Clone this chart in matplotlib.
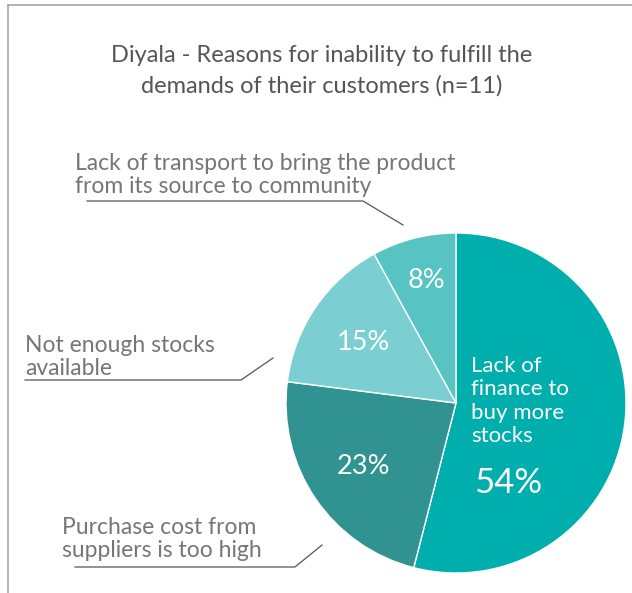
import numpy as np
import matplotlib.pyplot as plt
from matplotlib.lines import Line2D

# Slice data, clockwise from twelve o'clock
reasons = ["Lack of\nfinance to\nbuy more\nstocks",
           "Purchase cost from\nsuppliers is too high",
           "Not enough stocks\navailable",
           "Lack of transport to bring the product\nfrom its source to community"]
shares = [54, 23, 15, 8]
colours = ["#00aeae", "#309391", "#7bcfd2", "#57c3c3"]

title = "Diyala - Reasons for inability to fulfill the\ndemands of their customers (n=11)"

W, H = 632, 593
grey = "#767676"
plt.rcParams['font.family'] = ['Lato', 'DejaVu Sans']

fig = plt.figure(figsize=(W / 100, H / 100), dpi=100)
ax = fig.add_axes([0, 0, 1, 1])

# pixel-style coordinates, y measured from the top
def px(x, y):
    return x, H - y

cx, cy = px(456, 403)
R = 170
wedges, _ = ax.pie(shares, colors=colours, startangle=90, counterclock=False,
                   center=(cx, cy), radius=R, frame=True,
                   wedgeprops=dict(edgecolor="white", linewidth=1))
ax.set_xlim(0, W)
ax.set_ylim(0, H)
ax.set_aspect("auto")
ax.axis("off")

# frame: top and left rules
ax.add_line(Line2D([8, W], [H - 5, H - 5], color="#a6a6a6", lw=1.2))
ax.add_line(Line2D([8, 8], [H - 5, 0], color="#a6a6a6", lw=1.2))

ax.text(*px(322, 71), title, ha="center", va="center", fontsize=17,
        color="#555555", linespacing=1.52)

# percentage labels inside slices
pct_pos = [(508, 483), (363, 467), (363, 342), (426, 280)]
pct_size = [25, 19.5, 19.5, 19.5]
for v, (x, y), s in zip(shares, pct_pos, pct_size):
    ax.text(*px(x, y), f"{v}%", ha="center", va="center", fontsize=s,
            color="white")

ax.text(*px(471, 401), reasons[0], ha="left", va="center", fontsize=16,
        color="white", linespacing=1.22)

# outside labels with underline leaders
outside = [
    (reasons[1], (62, 539), [(75, 567), (295, 567), (322, 545)]),
    (reasons[2], (25, 357), [(25, 380), (241, 380), (273, 358)]),
    (reasons[3], (75, 175), [(87, 201), (363, 201), (403, 225)]),
]
for text, (x, y), pts in outside:
    ax.text(*px(x, y), text, ha="left", va="center", fontsize=16.5,
            color=grey, linespacing=1.13)
    xs = [p[0] for p in pts]
    ys = [H - p[1] for p in pts]
    ax.add_line(Line2D(xs, ys, color="#555555", lw=0.9))

fig.savefig("out.png", dpi=100)
